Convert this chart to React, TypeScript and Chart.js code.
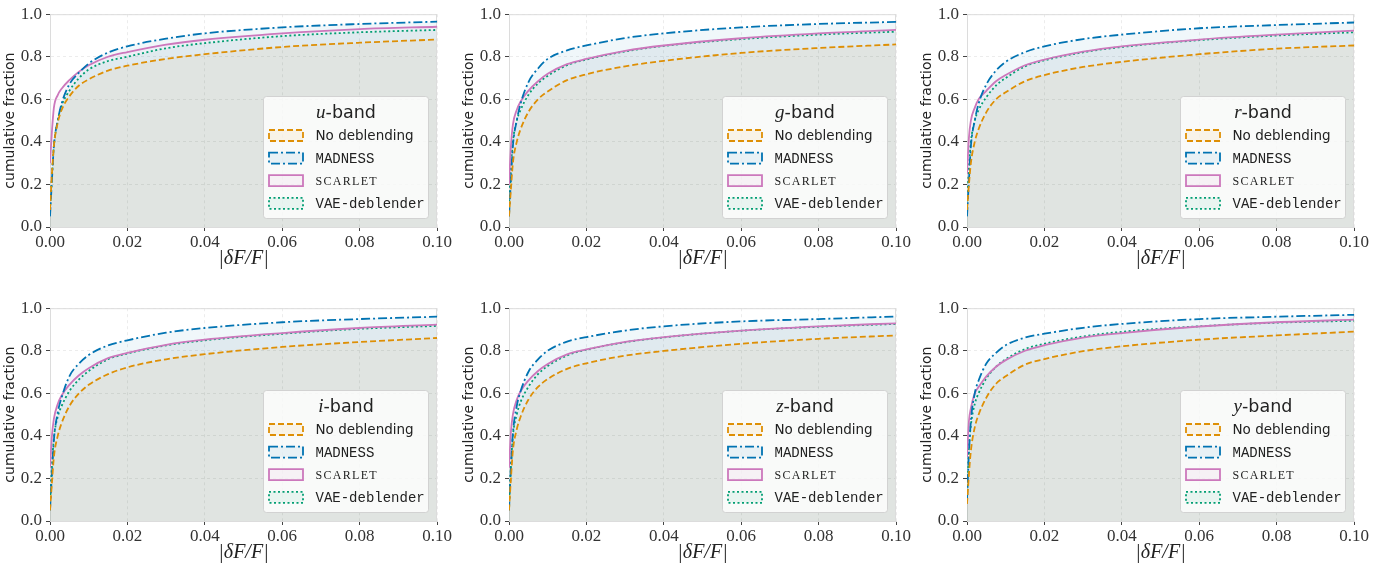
import React, { useEffect, useRef } from "react";
import { Chart, registerables } from "chart.js";

Chart.register(...registerables);

// ---------------- data ----------------
const X_VALUES = [0, 0.0005, 0.001, 0.002, 0.003, 0.005, 0.0075, 0.01, 0.015, 0.02, 0.03, 0.04, 0.06, 0.08, 0.1];
const X_TICKS = [0, 0.02, 0.04, 0.06, 0.08, 0.1];
const Y_TICKS = [0, 0.2, 0.4, 0.6, 0.8, 1.0];
const BANDS = ["u", "g", "r", "i", "z", "y"];
const SERIES_NAMES = ["No deblending", "MADNESS", "SCARLET", "VAE-deblender"];

const U_NODEB = [0.08, 0.25, 0.38, 0.49, 0.55, 0.614, 0.665, 0.694, 0.735, 0.758, 0.79, 0.812, 0.846, 0.866, 0.881];
const U_MADNESS = [0.05, 0.22, 0.38, 0.5, 0.58, 0.67, 0.725, 0.768, 0.82, 0.849, 0.885, 0.91, 0.938, 0.954, 0.965];
const U_SCARLET = [0.3, 0.45, 0.56, 0.62, 0.65, 0.69, 0.73, 0.76, 0.8, 0.822, 0.857, 0.88, 0.91, 0.93, 0.941];
const U_VAE = [0.08, 0.24, 0.38, 0.5, 0.57, 0.64, 0.7, 0.74, 0.78, 0.8, 0.84, 0.864, 0.897, 0.915, 0.926];

const G_NODEB = [0.05, 0.18, 0.3, 0.4, 0.46, 0.54, 0.6, 0.637, 0.69, 0.718, 0.755, 0.781, 0.818, 0.841, 0.858];
const G_MADNESS = [0.05, 0.22, 0.38, 0.5, 0.58, 0.68, 0.745, 0.79, 0.83, 0.853, 0.888, 0.91, 0.938, 0.954, 0.964];
const G_SCARLET = [0.2, 0.38, 0.48, 0.55, 0.59, 0.64, 0.685, 0.72, 0.765, 0.79, 0.828, 0.853, 0.887, 0.91, 0.926];
const G_VAE = [0.1, 0.28, 0.4, 0.5, 0.55, 0.62, 0.675, 0.71, 0.76, 0.787, 0.825, 0.851, 0.883, 0.904, 0.918];

const R_NODEB = [0.08, 0.2, 0.3, 0.4, 0.46, 0.54, 0.6, 0.633, 0.685, 0.714, 0.752, 0.776, 0.812, 0.838, 0.853];
const R_MADNESS = [0.05, 0.22, 0.38, 0.5, 0.58, 0.67, 0.735, 0.776, 0.822, 0.849, 0.883, 0.904, 0.934, 0.949, 0.961];
const R_SCARLET = [0.25, 0.42, 0.5, 0.56, 0.6, 0.64, 0.685, 0.714, 0.76, 0.787, 0.824, 0.849, 0.881, 0.904, 0.923];
const R_VAE = [0.1, 0.28, 0.4, 0.5, 0.55, 0.61, 0.665, 0.7, 0.755, 0.783, 0.821, 0.846, 0.878, 0.9, 0.915];

const I_NODEB = [0.05, 0.18, 0.3, 0.4, 0.46, 0.54, 0.6, 0.64, 0.69, 0.722, 0.76, 0.784, 0.818, 0.841, 0.86];
const I_MADNESS = [0.05, 0.22, 0.38, 0.51, 0.58, 0.68, 0.74, 0.78, 0.825, 0.849, 0.885, 0.907, 0.934, 0.949, 0.96];
const I_SCARLET = [0.25, 0.4, 0.48, 0.55, 0.59, 0.64, 0.685, 0.718, 0.765, 0.79, 0.828, 0.852, 0.883, 0.907, 0.923];
const I_VAE = [0.08, 0.26, 0.39, 0.49, 0.54, 0.61, 0.665, 0.705, 0.76, 0.787, 0.825, 0.849, 0.88, 0.903, 0.917];

const Z_NODEB = [0.05, 0.2, 0.33, 0.43, 0.49, 0.57, 0.63, 0.667, 0.715, 0.741, 0.777, 0.799, 0.833, 0.856, 0.872];
const Z_MADNESS = [0.05, 0.25, 0.41, 0.54, 0.61, 0.7, 0.76, 0.8, 0.843, 0.864, 0.895, 0.915, 0.938, 0.949, 0.961];
const Z_SCARLET = [0.25, 0.42, 0.5, 0.57, 0.61, 0.66, 0.705, 0.738, 0.783, 0.806, 0.842, 0.864, 0.895, 0.915, 0.929];
const Z_VAE = [0.08, 0.26, 0.4, 0.5, 0.56, 0.63, 0.69, 0.728, 0.778, 0.805, 0.84, 0.863, 0.894, 0.913, 0.926];

const Y_NODEB = [0.08, 0.22, 0.33, 0.44, 0.5, 0.58, 0.645, 0.68, 0.735, 0.761, 0.798, 0.821, 0.852, 0.872, 0.89];
const Y_MADNESS = [0.1, 0.32, 0.47, 0.6, 0.66, 0.74, 0.79, 0.826, 0.862, 0.88, 0.908, 0.926, 0.949, 0.96, 0.969];
const Y_SCARLET = [0.3, 0.47, 0.53, 0.6, 0.63, 0.68, 0.725, 0.756, 0.8, 0.826, 0.862, 0.883, 0.914, 0.934, 0.946];
const Y_VAE = [0.1, 0.34, 0.45, 0.55, 0.6, 0.67, 0.725, 0.76, 0.808, 0.833, 0.867, 0.889, 0.915, 0.932, 0.941];

const BAND_SERIES: number[][][] = [
  [U_NODEB, U_MADNESS, U_SCARLET, U_VAE],
  [G_NODEB, G_MADNESS, G_SCARLET, G_VAE],
  [R_NODEB, R_MADNESS, R_SCARLET, R_VAE],
  [I_NODEB, I_MADNESS, I_SCARLET, I_VAE],
  [Z_NODEB, Z_MADNESS, Z_SCARLET, Z_VAE],
  [Y_NODEB, Y_MADNESS, Y_SCARLET, Y_VAE],
];

// ---------------- styles ----------------
const COLORS = ["#de8f05", "#0173b2", "#cc78bc", "#029e73"];
const FILLS = ["rgba(222,143,5,0.06)", "rgba(1,115,178,0.06)", "rgba(204,120,188,0.06)", "rgba(2,158,115,0.06)"];
const PATCH_FILLS = ["rgba(222,143,5,0.07)", "rgba(1,115,178,0.07)", "rgba(204,120,188,0.07)", "rgba(2,158,115,0.07)"];
const DASHES = [[6, 3], [9, 3, 2, 3], [], [2, 2.5]];
const LABEL_FONTS = [
  '13.5px "DejaVu Sans"',
  '14px "Liberation Mono"',
  '12px "Liberation Serif"',
  '14px "Liberation Mono"',
];

const CANVAS_W = 460;
const CANVAS_H = 280;
const PANEL_POS = [
  [0, 0],
  [459, 0],
  [917, 0],
  [0, 294],
  [459, 294],
  [917, 294],
];

const framePlugin = {
  id: "frame",
  beforeDatasetsDraw(chart: any) {
    const { ctx, chartArea } = chart;
    ctx.save();
    ctx.strokeStyle = "#dcdcdc";
    ctx.lineWidth = 1;
    ctx.beginPath();
    ctx.moveTo(chartArea.left, chartArea.top + 0.5);
    ctx.lineTo(chartArea.right, chartArea.top + 0.5);
    ctx.moveTo(chartArea.right - 0.5, chartArea.top);
    ctx.lineTo(chartArea.right - 0.5, chartArea.bottom);
    ctx.stroke();
    ctx.restore();
  },
};

function makeLegendPlugin(band: string) {
  return {
    id: "bandLegend",
    afterDraw(chart: any) {
      const { ctx, chartArea } = chart;
      const w = 165;
      const h = 122;
      const x0 = Math.round(chartArea.right - 9 - w) + 0.5;
      const y0 = Math.round(chartArea.bottom - 9 - h) + 0.5;
      ctx.save();
      ctx.beginPath();
      (ctx as any).roundRect(x0, y0, w, h, 3);
      ctx.fillStyle = "rgba(255,255,255,0.8)";
      ctx.fill();
      ctx.strokeStyle = "rgba(204,204,204,0.8)";
      ctx.lineWidth = 1;
      ctx.stroke();

      // title
      const fLetter = 'italic 19px "Liberation Serif"';
      const fRest = '17.5px "DejaVu Sans"';
      ctx.font = fLetter;
      const wl = ctx.measureText(band).width;
      ctx.font = fRest;
      const wr = ctx.measureText("-band").width;
      const tx = x0 + w / 2 - (wl + wr) / 2;
      const ty = y0 + 21;
      ctx.fillStyle = "#222";
      ctx.textBaseline = "alphabetic";
      ctx.textAlign = "left";
      ctx.font = fLetter;
      ctx.fillText(band, tx, ty);
      ctx.font = fRest;
      ctx.fillText("-band", tx + wl, ty);

      for (let i = 0; i < SERIES_NAMES.length; i++) {
        const cy = y0 + 39 + i * 22.6;
        const px = x0 + 5.5;
        ctx.beginPath();
        ctx.rect(px, cy - 5.5, 34, 11);
        ctx.fillStyle = PATCH_FILLS[i];
        ctx.fill();
        ctx.setLineDash(DASHES[i]);
        ctx.strokeStyle = COLORS[i];
        ctx.lineWidth = 1.8;
        ctx.stroke();
        ctx.setLineDash([]);
        ctx.fillStyle = "#222";
        ctx.font = LABEL_FONTS[i];
        ctx.textBaseline = "middle";
        if (i === 2) (ctx as any).letterSpacing = "1.3px";
        ctx.fillText(SERIES_NAMES[i], x0 + 52, cy + 1);
        (ctx as any).letterSpacing = "0px";
      }
      ctx.restore();
    },
  };
}

function Panel({ index }: { index: number }) {
  const ref = useRef<HTMLCanvasElement | null>(null);
  useEffect(() => {
    if (!ref.current) return;
    const series = BAND_SERIES[index];
    const datasets = series.map((vals, i) => ({
      label: SERIES_NAMES[i],
      data: X_VALUES.map((x, j) => ({ x, y: vals[j] })),
      borderColor: COLORS[i],
      backgroundColor: FILLS[i],
      borderDash: DASHES[i],
      borderWidth: 1.8,
      pointRadius: 0,
      fill: "origin",
      cubicInterpolationMode: "monotone" as const,
    }));
    const chart = new Chart(ref.current, {
      type: "line",
      data: { datasets },
      plugins: [framePlugin, makeLegendPlugin(BANDS[index])],
      options: {
        animation: false,
        responsive: false,
        devicePixelRatio: 1,
        layout: { padding: { top: 10, right: 23, left: 0, bottom: 0 } },
        plugins: {
          legend: { display: false },
          tooltip: { enabled: false },
          filler: { drawTime: "beforeDatasetsDraw" },
        },
        scales: {
          x: {
            type: "linear",
            min: 0,
            max: 0.1,
            afterFit: (s: any) => {
              s.height = 53;
            },
            afterBuildTicks: (s: any) => {
              s.ticks = X_TICKS.map((v) => ({ value: v }));
            },
            ticks: {
              callback: (v: any) => Number(v).toFixed(2),
              font: { family: '"Liberation Serif"', size: 17 },
              color: "#333",
              padding: 1,
              maxRotation: 0,
            },
            grid: { color: "#ececec", tickColor: "#444", tickLength: 4, lineWidth: 1 },
            border: { color: "#dcdcdc", dash: [3, 3] },
            title: {
              display: true,
              text: "|δF/F|",
              font: { family: '"Liberation Serif"', size: 20, style: "italic" },
              color: "#222",
              padding: { top: 0, bottom: 9 },
            },
          },
          y: {
            type: "linear",
            min: 0,
            max: 1,
            afterFit: (s: any) => {
              s.width = 50;
            },
            afterBuildTicks: (s: any) => {
              s.ticks = Y_TICKS.map((v) => ({ value: v }));
            },
            ticks: {
              callback: (v: any) => Number(v).toFixed(1),
              font: { family: '"Liberation Serif"', size: 17 },
              color: "#333",
              padding: 4,
            },
            grid: { color: "#ececec", tickColor: "#444", tickLength: 4, lineWidth: 1 },
            border: { color: "#dcdcdc", dash: [3, 3] },
            title: {
              display: true,
              text: "cumulative fraction",
              font: { family: '"DejaVu Sans"', size: 14 },
              color: "#222",
              padding: { top: 2, bottom: 0 },
            },
          },
        },
      } as any,
    });
    return () => chart.destroy();
  }, [index]);
  const [left, top] = PANEL_POS[index];
  return (
    <canvas
      ref={ref}
      width={CANVAS_W}
      height={CANVAS_H}
      style={{ position: "absolute", left, top, width: CANVAS_W, height: CANVAS_H }}
    />
  );
}

export default function App() {
  return (
    <div style={{ position: "absolute", left: 0, top: 0, width: 1397, height: 571, background: "#fff" }}>
      {BANDS.map((_, i) => (
        <Panel key={i} index={i} />
      ))}
    </div>
  );
}
